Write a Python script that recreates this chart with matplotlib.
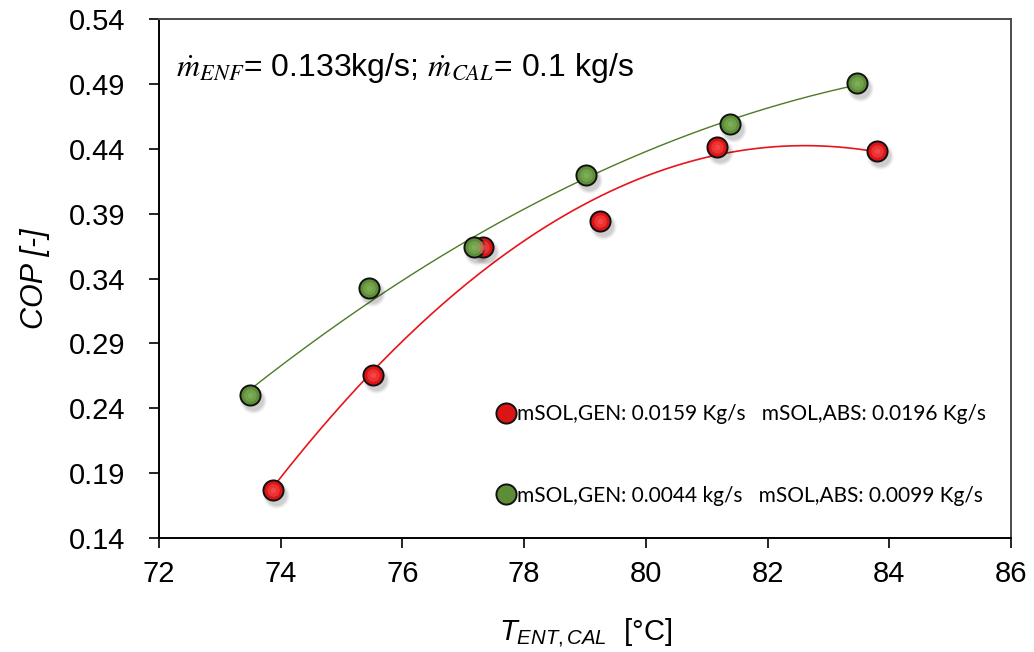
import numpy as np
import matplotlib; matplotlib.use("Agg"); import matplotlib.pyplot as plt
from matplotlib import transforms

plt.rcParams["font.family"] = ["Liberation Sans", "DejaVu Sans"]
plt.rcParams["mathtext.fontset"] = "custom"
plt.rcParams["mathtext.it"] = "Liberation Sans:italic"
plt.rcParams["mathtext.rm"] = "Liberation Sans"

# data
t_red = [73.87, 75.52, 77.32, 79.25, 81.17, 83.80]
cop_red = [0.177, 0.266, 0.364, 0.384, 0.441, 0.438]
t_green = [73.50, 75.45, 77.18, 79.02, 81.38, 83.47]
cop_green = [0.250, 0.333, 0.364, 0.420, 0.459, 0.491]
lab_red = "mSOL,GEN: 0.0159 Kg/s   mSOL,ABS: 0.0196 Kg/s"
lab_green = "mSOL,GEN: 0.0044 kg/s   mSOL,ABS: 0.0099 Kg/s"
xticks = [72, 74, 76, 78, 80, 82, 84, 86]
yticks = [0.14, 0.19, 0.24, 0.29, 0.34, 0.39, 0.44, 0.49, 0.54]

fig = plt.figure(figsize=(10.34, 6.52), dpi=100)
ax = fig.add_axes([0.1538, 0.1748, 0.8240, 0.7961])

shadow = transforms.offset_copy(ax.transData, fig=fig, x=3, y=-5, units="dots")


def series(t, c, base, light, line_col, lw):
    t = np.asarray(t); c = np.asarray(c)
    p = np.polyfit(t, c, 2)
    tt = np.linspace(t.min(), t.max(), 200)
    ax.plot(tt, np.polyval(p, tt), color=line_col, lw=lw, zorder=2)
    for ms, a in ((19, 0.05), (17, 0.07), (15, 0.08)):
        ax.plot(t, c, "o", ms=ms, color="#000000", alpha=a, mec="none", transform=shadow, zorder=3)
    h1, = ax.plot(t, c, "o", ms=14.5, mfc=base, mec="#111111", mew=1.4, zorder=4)
    ax.plot(t, c, "o", ms=9, mfc=light, mec="none", alpha=0.45, zorder=5)
    ax.plot(t, c, "o", ms=4, mfc=light, mec="none", alpha=0.5, zorder=5)
    return h1


hr = series(t_red, cop_red, "#dc1416", "#ff5a5a", "#e8141a", 1.2)
hg = series(t_green, cop_green, "#5e8d38", "#8cba64", "#4d7a26", 1.0)

ax.set_xlim(72, 86)
ax.set_ylim(0.14, 0.54)
ax.set_xticks(xticks)
ax.set_yticks(yticks)
ax.set_yticklabels([f"{v:.2f}" for v in yticks])
ax.tick_params(direction="out", length=7, width=1.2, labelsize=21)
ax.tick_params(axis="x", pad=9)
ax.tick_params(axis="y", pad=17)
for s in ("left", "bottom"):
    ax.spines[s].set_color("#000000"); ax.spines[s].set_linewidth(1.4)
for s in ("top", "right"):
    ax.spines[s].set_color("#4a4a4a"); ax.spines[s].set_linewidth(1.4)

ax.set_xlabel(r"$T_{ENT,CAL}$  [°C]", fontsize=21, labelpad=20)
ax.set_ylabel("COP [-]", fontsize=22, style="italic", labelpad=14)

ax.text(0.020, 0.905, r"$\dot{m}_{ENF}$= 0.133kg/s; $\dot{m}_{CAL}$= 0.1 kg/s",
        transform=ax.transAxes, fontsize=23, math_fontfamily="stix", va="center")

leg = ax.legend([hr, hg], [lab_red, lab_green], numpoints=1,
                loc="center left", bbox_to_anchor=(0.374, 0.160), frameon=False,
                prop={"family": "Lato", "size": 15}, labelspacing=2.95,
                handlelength=0.9, handletextpad=0.1)

fig.savefig("out.png", dpi=100)
